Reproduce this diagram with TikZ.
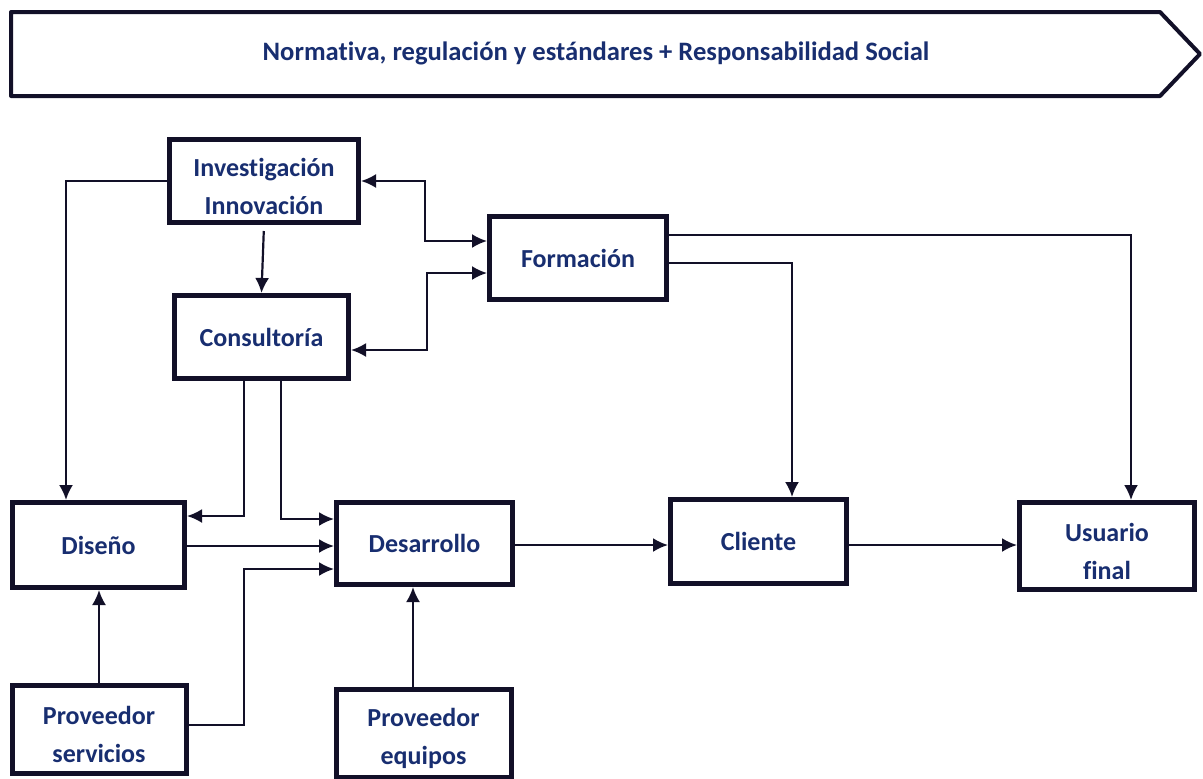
\documentclass[tikz,border=0pt]{standalone}
\usepackage{fontspec}
\setmainfont{Carlito}[Ligatures=NoCommon]
\usepackage{tikz}
\usetikzlibrary{arrows.meta,positioning,calc}

\definecolor{linea}{RGB}{18,16,40}
\definecolor{texto}{RGB}{24,46,112}
\newcommand{\arriba}{\rule{0pt}{14.5pt}}

\begin{document}
\begin{tikzpicture}[x=0.5pt,y=-0.5pt,
  block/.style={rectangle,draw=linea,line width=2.5pt,text=texto,align=center,
    font=\fontsize{13}{19}\selectfont\bfseries,inner sep=0pt},
  edge/.style={draw=linea,line width=1.1pt,-{Latex[length=7.5pt,width=7pt]}},
  both/.style={edge,{Latex[length=7.5pt,width=7pt]}-{Latex[length=7.5pt,width=7pt]}}]
\useasboundingbox (0,0) rectangle (1203,778);

% banner
\draw [linea,line width=2pt,line join=round] (11,12) -- (1160,12) -- (1200,54) -- (1160,96) -- (11,96) -- cycle;
\node (norma) at (596,53) [text=texto,font=\fontsize{13.3}{16}\selectfont\bfseries]
  {Normativa, regulación y estándares + Responsabilidad Social};

% boxes
\node (inv)    at (264,181)   [block,minimum width=94.5pt,minimum height=41.5pt] {\arriba Investigación\\Innovación};
\node (form)   at (578,258)   [block,minimum width=88.5pt,minimum height=41.5pt] {Formación};
\node (cons)   at (261.5,337) [block,minimum width=87pt,minimum height=41.5pt] {Consultoría};
\node (dis)    at (98.5,545)  [block,minimum width=86pt,minimum height=42.5pt] {Diseño};
\node (des)    at (424.5,543.5) [block,minimum width=88pt,minimum height=41pt] {Desarrollo};
\node (cli)    at (758.5,541.5) [block,minimum width=88pt,minimum height=42pt] {Cliente};
\node (usu)    at (1107,546)  [block,minimum width=87.5pt,minimum height=43.5pt] {\arriba Usuario\\final};
\node (provs)  at (99,729)    [block,minimum width=87pt,minimum height=44pt] {\arriba Proveedor\\servicios};
\node (proveq) at (423.5,733) [block,minimum width=87.5pt,minimum height=44pt] {\arriba Proveedor\\equipos};

% connectors
\draw [edge] (inv.west) -| (66,0 |- dis.north);
\draw [edge,shorten <=3pt] (inv.south) -- (cons.north);
\draw [both] (inv.east) -- (425,0 |- inv.east) |- (form.west |- 0,241);
\draw [both] (cons.east |- 0,350) -| (427,273) -- (form.west |- 0,273);
\draw [edge] (form.east |- 0,235) -| (1131,0 |- usu.north);
\draw [edge] (form.east |- 0,263) -| (792,0 |- cli.north);
\draw [edge] (244,0 |- cons.south) |- (dis.east |- 0,516);
\draw [edge] (281,0 |- cons.south) |- (des.west |- 0,519);
\draw [edge] (dis.east |- 0,546) -- (des.west |- 0,546);
\draw [edge] (provs.east |- 0,725) -| (244,569) -- (des.west |- 0,569);
\draw [edge] (99,0 |- provs.north) -- (99,0 |- dis.south);
\draw [edge] (413,0 |- proveq.north) -- (413,0 |- des.south);
\draw [edge] (des.east |- 0,545) -- (cli.west |- 0,545);
\draw [edge] (cli.east |- 0,545) -- (usu.west |- 0,545);
\end{tikzpicture}
\end{document}
